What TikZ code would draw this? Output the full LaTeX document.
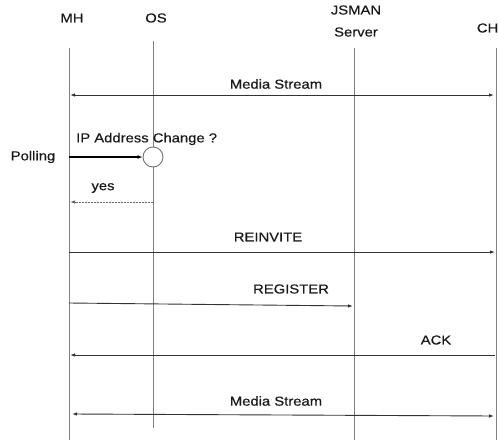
\documentclass[tikz,border=0pt]{standalone}
\usepackage{fontspec}
\setmainfont{Liberation Sans}[FakeStretch=1.14,FakeBold=0.4]
\usetikzlibrary{arrows.meta}
\begin{document}
\begin{tikzpicture}[x=1pt,y=-1pt,
  lbl/.style={font=\fontsize{13}{15}\selectfont, inner sep=0pt, text=black!90},
  life/.style={draw=black!50, line width=0.9pt},
  tip/.tip={Latex[length=5pt,width=3.5pt]},
  msg/.style={draw=black!80, line width=0.9pt, -tip},
  bmsg/.style={draw=black!80, line width=0.9pt, tip-tip}]
\clip (0,0) rectangle (499,440);
\fill[white] (0,0) rectangle (499,440);
% headers
\node[lbl] (hMH) at (72,18) {MH};
\node[lbl] (hOS) at (156,18) {OS};
\node[lbl, align=center, font=\fontsize{13}{22}\selectfont] (hJS) at (356,21) {JSMAN\\Server};
\node[lbl, anchor=east] (hCH) at (498.5,28) {CH};
% lifelines
\coordinate (mh1) at (69,48);  \coordinate (mh2) at (69,440);
\coordinate (os1) at (153,41); \coordinate (os2) at (153,428);
\coordinate (js1) at (354,48); \coordinate (js2) at (354,440);
\coordinate (ch1) at (496,48); \coordinate (ch2) at (496,440);
\draw[life] (mh1) -- (mh2);
\draw[life] (os1) -- (os2);
\draw[life] (js1) -- (js2);
\draw[life] (ch1) -- (ch2);
% media stream top
\coordinate (ms1a) at (70,95); \coordinate (ms1b) at (494,95);
\draw[bmsg] (ms1a) -- (ms1b);
\node[lbl] (lms1) at (276,84) {Media Stream};
% polling
\node[lbl] (poll) at (33,157) {Polling};
\node[circle, draw=black!55, fill=white, line width=0.9pt, minimum size=20pt, inner sep=0pt] (chk) at (153,157) {};
\coordinate (pstart) at (69,157);
\draw[draw=black, line width=1.4pt, -{Latex[length=5pt,width=4pt]}] (pstart) -- (chk.west);
\node[lbl, anchor=west] (lip) at (76,139) {IP Address Change ?};
% yes
\coordinate (ys) at (153,202); \coordinate (ye) at (70,202);
\draw[msg, dash pattern=on 2pt off 1pt, draw=black!60] (ys) -- (ye);
\node[lbl] (lyes) at (103,188) {yes};
% reinvite
\coordinate (r1) at (69,252); \coordinate (r2) at (495,252);
\draw[msg] (r1) -- (r2);
\node[lbl] (lre) at (268,237) {REINVITE};
% register
\coordinate (g1) at (69,303); \coordinate (g2) at (353,306);
\draw[msg] (g1) -- (g2);
\node[lbl] (lreg) at (291,289) {REGISTER};
% ack
\coordinate (a1) at (495,355); \coordinate (a2) at (70,355);
\draw[msg] (a1) -- (a2);
\node[lbl] (lack) at (436,340) {ACK};
% media stream bottom
\coordinate (ms2a) at (72,414); \coordinate (ms2b) at (494,416);
\draw[bmsg] (ms2a) -- (ms2b);
\node[lbl] (lms2) at (276,401) {Media Stream};
\end{tikzpicture}
\end{document}
